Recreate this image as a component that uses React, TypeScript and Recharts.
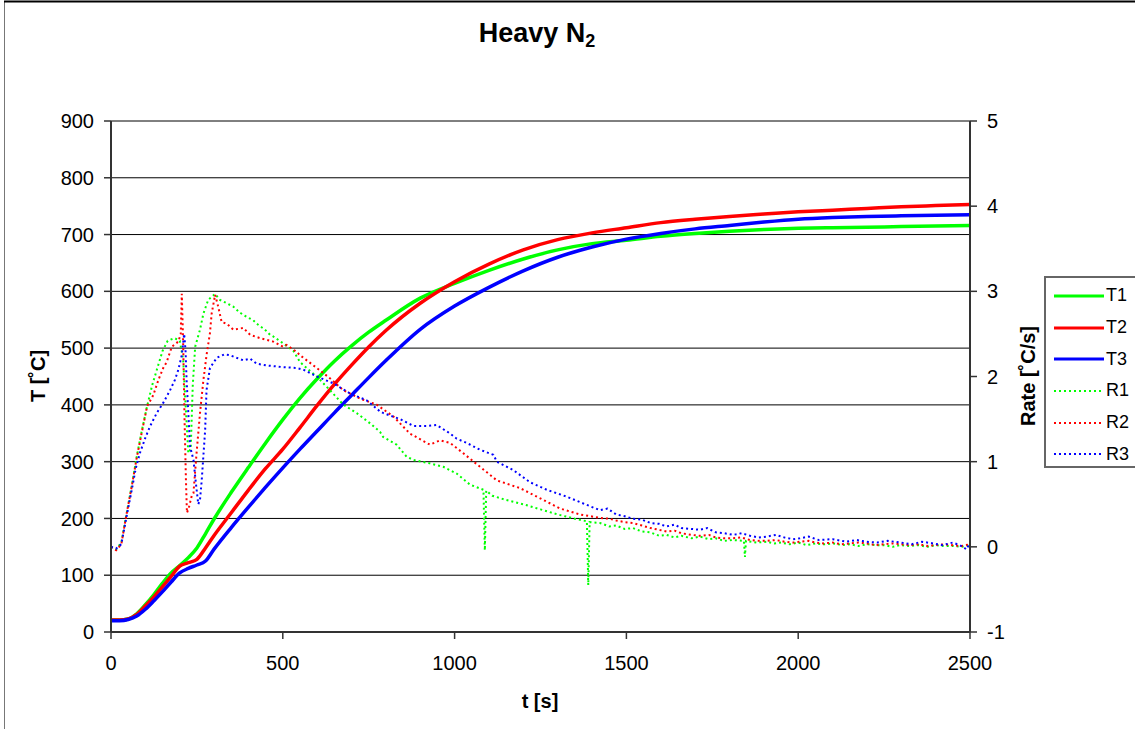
import React from 'react';
import { ComposedChart, Line, XAxis, YAxis, CartesianGrid, Legend } from 'recharts';

// ---------- data ----------
const timeT = [0, 25, 50, 75, 100, 125, 150, 175, 200, 225, 250, 275, 300, 350, 400, 450, 500, 550, 600, 650, 700, 750, 800, 900, 1000, 1100, 1200, 1300, 1400, 1500, 1600, 1700, 1800, 1900, 2000, 2100, 2200, 2300, 2400, 2500];
const T1 = [21, 21, 23, 32, 48, 66, 86, 104, 117, 131, 148, 173, 199, 246, 290, 333, 374, 412, 446, 477, 504, 528, 549, 588, 614, 637, 657, 673, 684, 690, 697, 702, 706, 709, 711, 712, 713, 714, 715, 716];
const T2 = [21, 21, 23, 31, 46, 62, 80, 98, 116, 122, 128, 148, 170, 210, 250, 288, 322, 360, 399, 436, 470, 502, 531, 579, 617, 648, 673, 691, 703, 712, 721, 727, 732, 736, 740, 743, 746, 749, 751, 753];
const T3 = [20, 20, 22, 28, 40, 55, 71, 88, 104, 112, 118, 125, 146, 184, 220, 255, 289, 322, 354, 386, 417, 448, 478, 533, 574, 607, 636, 660, 678, 692, 702, 710, 716, 722, 727, 730, 732, 733, 734, 735];

const timeR1 = [0, 15, 30, 45, 60, 75, 90, 105, 120, 135, 150, 165, 185, 200, 210, 218, 225, 232, 238, 245, 259, 269, 283, 303, 317, 337, 356, 375, 395, 414, 424, 448, 463, 472, 501, 531, 550, 575, 599, 637, 676, 715, 754, 783, 792, 831, 860, 880, 928, 967, 1006, 1045, 1084, 1088, 1092, 1110, 1150, 1200, 1250, 1300, 1350, 1385, 1389, 1393, 1423, 1450, 1470, 1495, 1519, 1545, 1570, 1595, 1617, 1640, 1660, 1690, 1714, 1740, 1760, 1785, 1810, 1842, 1845, 1848, 1880, 1908, 1930, 1950, 1975, 2000, 2025, 2050, 2075, 2102, 2130, 2150, 2175, 2200, 2225, 2250, 2275, 2296, 2325, 2350, 2375, 2400, 2425, 2450, 2475, 2500];
const R1 = [0, -0.03, 0.05, 0.38, 0.71, 1.06, 1.37, 1.65, 1.9, 2.1, 2.3, 2.42, 2.45, 2.42, 2.2, 1.6, 1.1, 1.15, 1.9, 2.35, 2.55, 2.74, 2.9, 2.97, 2.9, 2.86, 2.82, 2.75, 2.7, 2.66, 2.62, 2.55, 2.49, 2.47, 2.39, 2.3, 2.17, 2.08, 2.0, 1.84, 1.67, 1.57, 1.45, 1.35, 1.29, 1.2, 1.06, 1.02, 0.98, 0.94, 0.86, 0.73, 0.67, -0.04, 0.66, 0.6, 0.55, 0.5, 0.44, 0.38, 0.33, 0.3, -0.45, 0.29, 0.28, 0.24, 0.25, 0.21, 0.22, 0.18, 0.17, 0.13, 0.14, 0.11, 0.13, 0.1, 0.12, 0.09, 0.1, 0.07, 0.08, 0.07, -0.12, 0.07, 0.05, 0.06, 0.04, 0.05, 0.03, 0.05, 0.02, 0.04, 0.03, 0.04, 0.02, 0.03, 0.01, 0.03, 0.02, 0.02, 0.0, 0.02, 0.01, 0.02, 0.0, 0.02, 0.01, 0.01, 0.0, 0.02];

const timeR2 = [0, 15, 30, 45, 60, 75, 90, 105, 123, 138, 152, 162, 177, 196, 203, 206, 210, 214, 218, 221, 226, 235, 240, 249, 259, 269, 278, 288, 293, 303, 312, 322, 337, 356, 385, 405, 434, 453, 472, 501, 511, 540, 550, 599, 637, 676, 725, 773, 822, 870, 928, 958, 987, 1025, 1074, 1123, 1190, 1249, 1307, 1365, 1423, 1450, 1470, 1495, 1519, 1545, 1570, 1595, 1617, 1640, 1660, 1690, 1714, 1740, 1760, 1785, 1810, 1835, 1860, 1885, 1908, 1935, 1960, 1985, 2005, 2030, 2050, 2075, 2100, 2125, 2150, 2175, 2200, 2225, 2250, 2275, 2300, 2325, 2350, 2375, 2400, 2425, 2450, 2475, 2500];
const R2 = [0, -0.04, 0.03, 0.38, 0.7, 1.05, 1.35, 1.65, 1.78, 1.96, 2.1, 2.17, 2.35, 2.41, 2.5, 2.97, 2.4, 1.5, 0.8, 0.4, 0.45, 0.6, 0.63, 1.1, 1.57, 1.96, 2.25, 2.51, 2.74, 2.96, 2.82, 2.64, 2.62, 2.55, 2.57, 2.49, 2.45, 2.43, 2.41, 2.35, 2.37, 2.29, 2.25, 2.1, 1.98, 1.84, 1.74, 1.67, 1.53, 1.33, 1.2, 1.25, 1.22, 1.1, 0.94, 0.78, 0.69, 0.57, 0.45, 0.38, 0.34, 0.33, 0.31, 0.29, 0.28, 0.25, 0.22, 0.2, 0.18, 0.19, 0.16, 0.14, 0.13, 0.14, 0.11, 0.1, 0.1, 0.11, 0.08, 0.07, 0.07, 0.08, 0.06, 0.05, 0.06, 0.07, 0.05, 0.04, 0.05, 0.03, 0.04, 0.05, 0.04, 0.02, 0.03, 0.04, 0.03, 0.02, 0.03, 0.01, 0.02, 0.03, 0.02, 0.01, 0.03];

const timeR3 = [0, 15, 30, 45, 60, 72, 84, 99, 113, 133, 152, 172, 186, 196, 206, 213, 217, 220, 230, 240, 247, 254, 259, 264, 274, 278, 288, 308, 330, 346, 365, 385, 405, 424, 453, 501, 540, 560, 599, 647, 696, 744, 783, 793, 841, 880, 920, 948, 987, 1006, 1035, 1074, 1113, 1123, 1171, 1219, 1268, 1326, 1380, 1423, 1445, 1470, 1495, 1519, 1545, 1570, 1595, 1617, 1640, 1660, 1690, 1714, 1735, 1760, 1785, 1811, 1835, 1860, 1885, 1908, 1935, 1960, 1985, 2005, 2030, 2060, 2100, 2140, 2170, 2199, 2230, 2260, 2300, 2330, 2360, 2393, 2420, 2450, 2470, 2490, 2500];
const R3 = [0, -0.02, 0.03, 0.35, 0.66, 0.92, 1.1, 1.27, 1.41, 1.57, 1.69, 1.84, 1.96, 2.08, 2.25, 2.5, 2.3, 1.96, 1.18, 1.02, 0.75, 0.5, 0.55, 0.78, 1.37, 1.84, 2.1, 2.22, 2.26, 2.25, 2.22, 2.19, 2.21, 2.15, 2.13, 2.11, 2.1, 2.08, 2.0, 1.92, 1.8, 1.72, 1.59, 1.57, 1.5, 1.42, 1.42, 1.43, 1.33, 1.27, 1.22, 1.14, 1.08, 1.0, 0.9, 0.76, 0.67, 0.59, 0.5, 0.43, 0.45, 0.38, 0.36, 0.33, 0.32, 0.28, 0.27, 0.24, 0.26, 0.22, 0.21, 0.2, 0.22, 0.17, 0.16, 0.14, 0.16, 0.13, 0.11, 0.12, 0.14, 0.11, 0.09, 0.1, 0.12, 0.08, 0.09, 0.06, 0.08, 0.06, 0.05, 0.07, 0.05, 0.03, 0.06, 0.04, 0.02, 0.05, 0.02, -0.03, 0.05];

const xTicks = [0, 500, 1000, 1500, 2000, 2500];
const tTicks = [0, 100, 200, 300, 400, 500, 600, 700, 800, 900];
const rateTicks = [-1, 0, 1, 2, 3, 4, 5];

const GREEN = '#00FF00';
const RED = '#FF0000';
const BLUE = '#0000FF';

const seriesNames = ['T1', 'T2', 'T3', 'R1', 'R2', 'R3'];
const seriesColors = [GREEN, RED, BLUE, GREEN, RED, BLUE];

const zip = (ts: number[], vs: number[]) => ts.map((t, i) => ({ t, v: vs[i] }));

const dataT1 = zip(timeT, T1);
const dataT2 = zip(timeT, T2);
const dataT3 = zip(timeT, T3);
const dataR1 = zip(timeR1, R1);
const dataR2 = zip(timeR2, R2);
const dataR3 = zip(timeR3, R3);

const FONT = '"Liberation Sans", Arial, Helvetica, sans-serif';
const DOTS = '2 3';

const LegendBox = () => (
  <div
    style={{
      width: 100,
      height: 192,
      boxSizing: 'border-box',
      border: '2px solid #666',
      background: '#fff',
      paddingTop: 2,
      fontFamily: FONT,
      fontSize: 18,
      color: '#000',
    }}
  >
    {seriesNames.map((name, i) => (
      <div key={name} style={{ height: 31.7, display: 'flex', alignItems: 'center' }}>
        <svg width={60} height={6} style={{ marginLeft: 6 }}>
          <line
            x1={2}
            y1={3}
            x2={52}
            y2={3}
            stroke={seriesColors[i]}
            strokeWidth={i < 3 ? 3 : 2}
            strokeDasharray={i < 3 ? undefined : DOTS}
          />
        </svg>
        <span style={{ marginLeft: -6 }}>{name}</span>
      </div>
    ))}
  </div>
);

export default function App() {
  const tickStyle = { fontSize: 20, fill: '#000', fontFamily: FONT };
  return (
    <div style={{ position: 'absolute', left: 0, top: 0, width: 1135, height: 729, overflow: 'hidden', background: '#fff' }}>
      <svg width={1135} height={729} style={{ position: 'absolute', left: 0, top: 0 }}>
        <line x1={4.5} y1={1} x2={4.5} y2={729} stroke="#777" strokeWidth={1} />
        <line x1={4} y1={1.5} x2={1135} y2={1.5} stroke="#000" strokeWidth={2} />
      </svg>
      <div style={{ position: 'absolute', left: 0, top: 0 }}>
        <ComposedChart width={1135} height={729} margin={{ top: 121, right: 70, bottom: 37, left: 20 }}>
          <CartesianGrid yAxisId="left" horizontal vertical={false} stroke="#000" strokeWidth={1} />
          <XAxis
            dataKey="t"
            type="number"
            domain={[0, 2500]}
            ticks={xTicks}
            allowDuplicatedCategory={false}
            height={60}
            tickSize={7}
            tickMargin={17}
            tick={tickStyle}
            axisLine={{ stroke: '#333', strokeWidth: 2 }}
            tickLine={{ stroke: '#333', strokeWidth: 1.5 }}
          />
          <YAxis
            yAxisId="left"
            orientation="left"
            type="number"
            domain={[0, 900]}
            ticks={tTicks}
            width={91}
            tickSize={7}
            tickMargin={10}
            tick={tickStyle}
            axisLine={{ stroke: '#333', strokeWidth: 2 }}
            tickLine={{ stroke: '#333', strokeWidth: 1.5 }}
          />
          <YAxis
            yAxisId="right"
            orientation="right"
            type="number"
            domain={[-1, 5]}
            ticks={rateTicks}
            width={95}
            tickSize={7}
            tickMargin={10}
            tick={tickStyle}
            axisLine={{ stroke: '#333', strokeWidth: 2 }}
            tickLine={{ stroke: '#333', strokeWidth: 1.5 }}
          />
          <Line yAxisId="left" data={dataT1} dataKey="v" name="T1" type="monotone" stroke={GREEN} strokeWidth={3.5} dot={false} isAnimationActive={false} />
          <Line yAxisId="left" data={dataT2} dataKey="v" name="T2" type="monotone" stroke={RED} strokeWidth={3.5} dot={false} isAnimationActive={false} />
          <Line yAxisId="left" data={dataT3} dataKey="v" name="T3" type="monotone" stroke={BLUE} strokeWidth={3.5} dot={false} isAnimationActive={false} />
          <Line yAxisId="right" data={dataR1} dataKey="v" name="R1" type="linear" stroke={GREEN} strokeWidth={2} strokeDasharray={DOTS} dot={false} isAnimationActive={false} />
          <Line yAxisId="right" data={dataR2} dataKey="v" name="R2" type="linear" stroke={RED} strokeWidth={2} strokeDasharray={DOTS} dot={false} isAnimationActive={false} />
          <Line yAxisId="right" data={dataR3} dataKey="v" name="R3" type="linear" stroke={BLUE} strokeWidth={2} strokeDasharray={DOTS} dot={false} isAnimationActive={false} />
          <Legend
            layout="vertical"
            align="center"
            verticalAlign="middle"
            content={() => <LegendBox />}
            wrapperStyle={{ position: 'absolute', left: 1044, top: 276, width: 100, height: 192 }}
          />
        </ComposedChart>
      </div>
      <svg width={1135} height={729} style={{ position: 'absolute', left: 0, top: 0, pointerEvents: 'none' }}>
        <text x={537} y={42} textAnchor="middle" fontFamily={FONT} fontWeight="bold" fontSize={27} fill="#000">
          Heavy N<tspan fontSize={18} dy={5}>2</tspan>
        </text>
        <text
          x={38}
          y={376}
          transform="rotate(-90 38 376)"
          textAnchor="middle"
          dominantBaseline="central"
          fontFamily={FONT}
          fontWeight="bold"
          fontSize={20}
          fill="#000"
        >
          T [˚C]
        </text>
        <text
          x={1028}
          y={376}
          transform="rotate(-90 1028 376)"
          textAnchor="middle"
          dominantBaseline="central"
          fontFamily={FONT}
          fontWeight="bold"
          fontSize={20}
          fill="#000"
        >
          Rate [˚C/s]
        </text>
        <text x={540} y={708} textAnchor="middle" fontFamily={FONT} fontWeight="bold" fontSize={20} fill="#000">
          t [s]
        </text>
      </svg>
    </div>
  );
}
